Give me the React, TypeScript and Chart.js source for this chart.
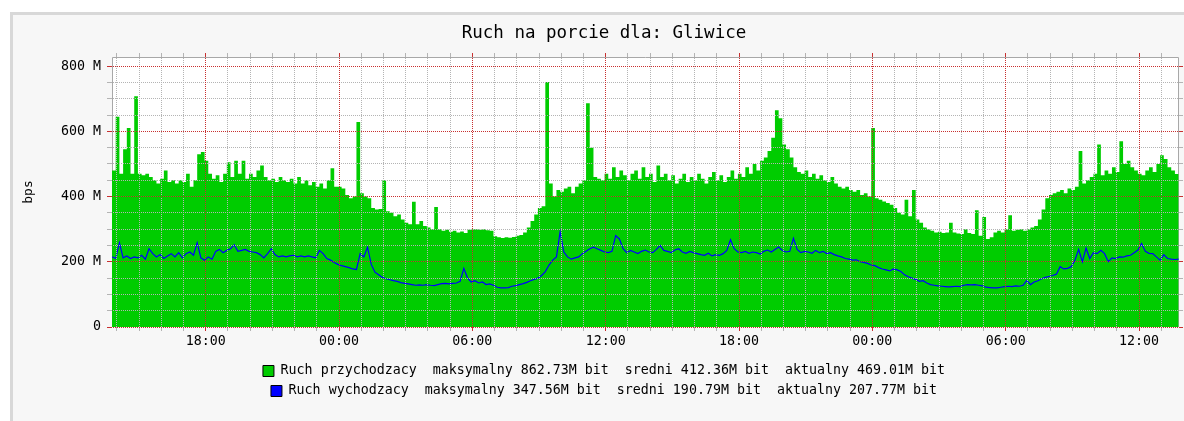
import { useEffect, useRef } from 'react';
import { Chart, registerables } from 'chart.js';

Chart.register(...registerables);

const TITLE = 'Ruch na porcie dla: Gliwice';
const Y_TITLE = 'bps';
const IN_LABEL = 'Ruch przychodzacy  maksymalny 862.73M bit  sredni 412.36M bit  aktualny 469.01M bit';
const OUT_LABEL = 'Ruch wychodzacy  maksymalny 347.56M bit  sredni 190.79M bit  aktualny 207.77M bit';

// time axis (hours since 00:00 of day 1), samples every 10 minutes from 13:47
const START_HOUR = 13 + 47 / 60;
const STEP_MINUTES = 10;
const X_MIN = START_HOUR;
const X_MAX = 61.8;
const X_FIRST_TICK = 14;
const X_LAST_TICK = 61;
const X_MAJOR_EVERY = 6;

// value axis (Mbps)
const Y_MAX = 828;
const Y_TICKS = [0, 50, 100, 150, 200, 250, 300, 350, 400, 450, 500, 550, 600, 650, 700, 750, 800];
const Y_MAJOR_EVERY = 200;

// Incoming traffic (M bps), one value per 10 minutes
const IN_MBPS = [
  470, 480, 645, 470, 545, 610,
  470, 708, 470, 465, 470, 460,
  450, 440, 455, 480, 445, 450,
  440, 450, 445, 470, 430, 450,
  530, 537, 510, 470, 455, 465,
  445, 470, 505, 460, 510, 470,
  510, 455, 470, 460, 480, 495,
  460, 450, 455, 445, 460, 450,
  445, 455, 440, 460, 440, 450,
  435, 445, 430, 440, 425, 450,
  487, 430, 430, 425, 405, 395,
  400, 629, 410, 400, 395, 365,
  360, 362, 450, 355, 350, 340,
  345, 330, 320, 315, 384, 315,
  325, 310, 305, 300, 368, 300,
  295, 298, 292, 295, 290, 293,
  288, 298, 300, 300, 298, 300,
  297, 295, 278, 275, 273, 275,
  274, 276, 280, 282, 290, 305,
  325, 345, 365, 370, 751, 440,
  400, 420, 415, 425, 430, 410,
  430, 440, 450, 686, 550, 460,
  455, 450, 470, 455, 490, 460,
  480, 465, 450, 470, 480, 455,
  490, 460, 470, 445, 495, 460,
  470, 450, 465, 440, 455, 470,
  445, 460, 450, 470, 455, 440,
  460, 475, 450, 465, 445, 460,
  480, 455, 470, 460, 490, 470,
  500, 480, 510, 520, 540, 580,
  665, 640, 560, 545, 520, 490,
  475, 470, 480, 460, 470, 455,
  465, 450, 445, 460, 440, 430,
  425, 430, 420, 415, 420, 405,
  410, 400, 610, 395, 390, 385,
  380, 375, 365, 350, 345, 390,
  340, 420, 330, 320, 305, 300,
  295, 290, 292, 288, 290, 320,
  290, 287, 285, 300, 288, 285,
  358, 280, 337, 270, 275, 290,
  295, 290, 300, 343, 295, 298,
  300, 295, 300, 305, 310, 330,
  360, 395, 405, 410, 415, 420,
  410, 425, 420, 430, 540, 440,
  450, 460, 470, 560, 465, 480,
  470, 490, 475, 570, 500, 510,
  490, 480, 470, 465, 480, 490,
  475, 500, 527, 515, 490, 480,
  469,
];

// Outgoing traffic (M bps), one value per 10 minutes
const OUT_MBPS = [
  215, 210, 258, 212, 218, 210,
  215, 212, 220, 208, 240, 225,
  215, 222, 210, 218, 225, 215,
  228, 212, 225, 230, 220, 258,
  212, 205, 215, 208, 232, 238,
  228, 235, 240, 252, 232, 235,
  238, 232, 230, 228, 222, 212,
  225, 240, 222, 215, 218, 215,
  218, 220, 215, 218, 215, 218,
  215, 212, 235, 225, 210, 205,
  198, 192, 188, 185, 182, 178,
  176, 225, 215, 245, 192, 168,
  160, 152, 148, 145, 142, 140,
  136, 134, 132, 130, 128, 129,
  128, 130, 128, 127, 130, 133,
  134, 132, 134, 135, 140, 180,
  150, 138, 142, 135, 138, 130,
  132, 128, 122, 120, 120, 121,
  125, 127, 130, 133, 137, 142,
  146, 150, 158, 170, 190, 205,
  215, 292, 230, 215, 208, 212,
  215, 225, 232, 240, 245, 240,
  235, 230, 228, 232, 280, 270,
  240, 228, 235, 230, 225, 232,
  236, 230, 228, 238, 250, 235,
  232, 228, 236, 240, 230, 226,
  232, 228, 225, 222, 220, 226,
  218, 222, 220, 225, 235, 268,
  240, 230, 228, 232, 226, 230,
  228, 224, 232, 236, 230, 238,
  245, 235, 230, 232, 272, 238,
  228, 232, 230, 226, 235, 228,
  232, 225, 228, 222, 218, 215,
  210, 208, 205, 206, 200, 198,
  195, 190, 188, 182, 178, 175,
  172, 178, 175, 170, 160, 154,
  150, 146, 140, 142, 135, 130,
  128, 126, 125, 124, 123, 124,
  125, 124, 128, 130, 129, 130,
  128, 126, 122, 121, 120, 120,
  122, 124, 125, 124, 126, 125,
  128, 143, 130, 138, 142, 148,
  152, 155, 158, 162, 185, 178,
  180, 185, 205, 238, 200, 242,
  210, 228, 225, 235, 225, 200,
  212, 210, 215, 214, 218, 220,
  228, 236, 256, 232, 226, 225,
  215, 205, 222, 210, 208, 207,
  208,
];

const MONO = '"DejaVu Sans Mono", monospace';
const GREEN = '#00cc00';
const BLUE = '#0000ff';
const RED_GRID = '#c83030';
const GRAY_GRID = '#b4b4b4';

const toPoints = (arr: number[]) =>
  arr.map((v, i) => ({ x: START_HOUR + (i * STEP_MINUTES) / 60, y: v }));

const xTickValues = () => {
  const out: { value: number }[] = [];
  for (let h = X_FIRST_TICK; h <= X_LAST_TICK; h++) out.push({ value: h });
  return out;
};

const isMajorX = (v: number) => Math.round(v) % X_MAJOR_EVERY === 0;
const isMajorY = (v: number) => Math.round(v) % Y_MAJOR_EVERY === 0;

// frame under the data, dotted grid above it (as rrdtool draws it)
const framePlugin = {
  id: 'rrdFrame',
  beforeDraw(chart: any) {
    const { ctx, chartArea: a } = chart;
    ctx.save();
    ctx.fillStyle = '#ffffff';
    ctx.fillRect(a.left, a.top, a.right - a.left, a.bottom - a.top);
    ctx.restore();
  },
  beforeDatasetsDraw(chart: any) {
    const { ctx, chartArea: a } = chart;
    ctx.save();
    ctx.strokeStyle = '#a8a8a8';
    ctx.lineWidth = 1;
    ctx.beginPath();
    ctx.moveTo(Math.round(a.left) + 0.5, a.bottom);
    ctx.lineTo(Math.round(a.left) + 0.5, Math.round(a.top) + 0.5);
    ctx.lineTo(Math.round(a.right) - 0.5, Math.round(a.top) + 0.5);
    ctx.lineTo(Math.round(a.right) - 0.5, a.bottom);
    ctx.stroke();
    ctx.restore();
  },
  afterDatasetsDraw(chart: any) {
    const { ctx, chartArea: a, scales } = chart;
    const top = Math.round(a.top);
    const bottom = Math.round(a.bottom);
    const left = Math.round(a.left);
    const right = Math.round(a.right);
    ctx.save();
    // minor first, majors on top
    for (const pass of [false, true]) {
      for (const t of scales.y.ticks) {
        if (isMajorY(t.value) !== pass) continue;
        const row = Math.round(scales.y.getPixelForValue(t.value) - 0.5);
        ctx.fillStyle = pass ? RED_GRID : GRAY_GRID;
        for (let x = left + 1; x < right; x += 2) ctx.fillRect(x, row, 1, 1);
      }
      for (const t of scales.x.ticks) {
        if (isMajorX(t.value) !== pass) continue;
        const col = Math.round(scales.x.getPixelForValue(t.value) - 0.5);
        ctx.fillStyle = pass ? RED_GRID : GRAY_GRID;
        for (let y = top + 1; y < bottom; y += 2) ctx.fillRect(col, y, 1, 1);
      }
    }
    // short marks above the top edge and right of the right edge
    for (const t of scales.x.ticks) {
      const col = Math.round(scales.x.getPixelForValue(t.value) - 0.5);
      ctx.fillStyle = isMajorX(t.value) ? RED_GRID : GRAY_GRID;
      ctx.fillRect(col, top - 4, 1, 4);
    }
    for (const t of scales.y.ticks) {
      const row = Math.round(scales.y.getPixelForValue(t.value) - 0.5);
      ctx.fillStyle = isMajorY(t.value) ? RED_GRID : GRAY_GRID;
      ctx.fillRect(right, row, 4, 1);
    }
    ctx.restore();
  },
};

export default function App() {
  const ref = useRef<HTMLCanvasElement | null>(null);

  useEffect(() => {
    if (!ref.current) return;
    const tickFont = { family: MONO, size: 13.3, weight: 'normal' as const };
    const chart = new Chart(ref.current, {
      type: 'line',
      data: {
        datasets: [
          {
            label: IN_LABEL,
            data: toPoints(IN_MBPS),
            fill: 'origin',
            backgroundColor: GREEN,
            borderColor: GREEN,
            borderWidth: 0,
            pointRadius: 0,
            stepped: 'after',
            order: 2,
          },
          {
            label: OUT_LABEL,
            data: toPoints(OUT_MBPS),
            fill: false,
            borderColor: BLUE,
            borderWidth: 1.2,
            pointRadius: 0,
            tension: 0,
            order: 1,
          },
        ],
      },
      options: {
        responsive: false,
        animation: false,
        devicePixelRatio: 1,
        layout: { padding: { left: 29, right: 5, top: 0, bottom: 13.35 } },
        plugins: {
          title: {
            display: true,
            text: TITLE,
            color: '#000',
            font: { family: MONO, size: 17.5, weight: 'normal', lineHeight: 1.2 },
            padding: { top: 22.5, bottom: 13.5 },
          },
          legend: {
            position: 'bottom',
            labels: {
              font: tickFont,
              color: '#000',
              boxWidth: 11,
              boxHeight: 11,
              padding: 6.7,
              generateLabels: () => [
                { text: IN_LABEL, fillStyle: GREEN, strokeStyle: '#000', lineWidth: 1, hidden: false, datasetIndex: 0 },
                { text: OUT_LABEL, fillStyle: BLUE, strokeStyle: '#000', lineWidth: 1, hidden: false, datasetIndex: 1 },
              ],
            },
          },
          tooltip: { enabled: false },
        },
        scales: {
          x: {
            type: 'linear',
            min: X_MIN,
            max: X_MAX,
            afterBuildTicks: (s: any) => {
              s.ticks = xTickValues();
            },
            afterFit: (s: any) => {
              s.height = 30.65;
            },
            ticks: {
              autoSkip: false,
              maxRotation: 0,
              minRotation: 0,
              padding: 2.7,
              font: tickFont,
              color: '#000',
              callback: (v: any) => {
                const h = Math.round(Number(v));
                if (h % X_MAJOR_EVERY !== 0) return '';
                return String(h % 24).padStart(2, '0') + ':00';
              },
            },
            grid: {
              drawOnChartArea: false,
              lineWidth: 1,
              tickLength: 4,
              tickColor: (c: any) => (isMajorX(c.tick.value) ? RED_GRID : GRAY_GRID),
              tickBorderDash: [],
            },
            border: { display: false },
          },
          y: {
            type: 'linear',
            min: 0,
            max: Y_MAX,
            afterBuildTicks: (s: any) => {
              s.ticks = Y_TICKS.map((v) => ({ value: v }));
            },
            afterFit: (s: any) => {
              s.width = 83;
            },
            ticks: {
              autoSkip: false,
              padding: 6,
              font: tickFont,
              color: '#000',
              callback: (v: any) => {
                const n = Math.round(Number(v));
                if (n % Y_MAJOR_EVERY !== 0) return '';
                return n === 0 ? '0' : `${n} M`;
              },
            },
            grid: {
              drawOnChartArea: false,
              lineWidth: 1,
              tickLength: 5,
              tickColor: (c: any) => (isMajorY(c.tick.value) ? RED_GRID : GRAY_GRID),
              tickBorderDash: [],
            },
            border: { display: false },
            title: {
              display: true,
              text: Y_TITLE,
              color: '#000',
              font: { family: MONO, size: 13, weight: 'normal' },
              padding: { top: -8.3, bottom: 0 },
            },
          },
        },
      },
      plugins: [framePlugin],
    } as any);
    return () => chart.destroy();
  }, []);

  return (
    <div
      style={{
        position: 'fixed',
        left: 0,
        top: 0,
        width: 1184,
        height: 421,
        overflow: 'hidden',
        background: '#ffffff',
      }}
    >
      <div
        style={{
          position: 'absolute',
          left: 10,
          top: 12,
          width: 1300,
          height: 500,
          background: '#f7f7f7',
          borderLeft: '3px solid #d8d8d8',
          borderTop: '3px solid #d8d8d8',
        }}
      />
      <canvas
        ref={ref}
        width={1184}
        height={421}
        style={{ position: 'absolute', left: 0, top: 0, width: 1184, height: 421 }}
      />
    </div>
  );
}
